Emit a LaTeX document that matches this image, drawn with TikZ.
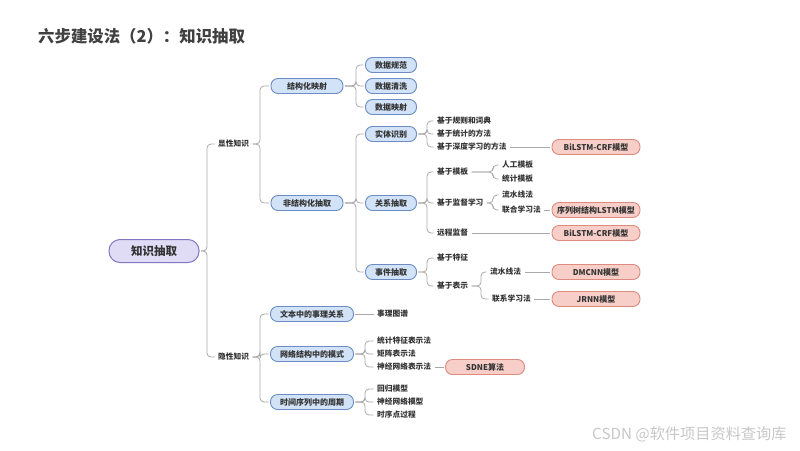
\documentclass[tikz,border=0pt]{standalone}
\usepackage{fontspec}
\newfontfamily\cjk{Noto Sans CJK SC}
\usetikzlibrary{positioning}
\definecolor{lineGrey}{HTML}{A9A9A9}
\definecolor{pillBlue}{HTML}{D2E2F7}
\definecolor{edgeBlue}{HTML}{6B8CC6}
\definecolor{pillRed}{HTML}{F7CFC8}
\definecolor{edgeRed}{HTML}{DE8A7E}
\definecolor{pillLav}{HTML}{E1DCF5}
\definecolor{edgeLav}{HTML}{8375C4}
\definecolor{inkGrey}{HTML}{333333}

\tikzset{
  pill/.style={rounded corners=7pt, minimum height=15pt, inner sep=1pt, line width=0.9pt,
    font=\cjk\bfseries\fontsize{8}{9}\selectfont, text=inkGrey},
  bluebox/.style={pill, fill=pillBlue, draw=edgeBlue},
  redbox/.style={pill, fill=pillRed, draw=edgeRed, minimum width=88pt},
  rootbox/.style={rounded corners=11pt, minimum height=23pt, minimum width=90pt, fill=pillLav,
    draw=edgeLav, line width=1pt, font=\cjk\bfseries\fontsize{11.5}{13}\selectfont, text=inkGrey},
  leaf/.style={anchor=west, inner sep=2pt, font=\cjk\bfseries\fontsize{7.7}{9}\selectfont, text=inkGrey},
  conn/.style={draw=lineGrey, line width=0.8pt, rounded corners=4pt, shorten <=1.5pt, shorten >=1.5pt},
}
\newcommand\branch[3]{\draw[conn] (#1.east) -- (#3,0 |- #1.east) |- (#2.west);}

\begin{document}
\begin{tikzpicture}[x=1pt, y=-1pt]
  \useasboundingbox (0,0) rectangle (800,450);
  \node[anchor=west, inner sep=0pt, font=\cjk\bfseries\fontsize{16.4}{18}\selectfont, text=black!75]
    (title) at (38,36) {六步建设法（2）：知识抽取};

  \node[rootbox] (root) at (154,251) {知识抽取};
  \node[leaf] (exp) at (216,144) {显性知识};
  \node[leaf] (imp) at (216,357) {隐性知识};
  \branch{root}{exp}{207}
  \branch{root}{imp}{207}

  \node[bluebox, minimum width=72pt] (smap) at (307,86) {结构化映射};
  \node[bluebox, minimum width=72pt] (uext) at (307,203) {非结构化抽取};
  \branch{exp}{smap}{260}
  \branch{exp}{uext}{260}

  \foreach \t/\y [count=\i] in {数据规范/65, 数据清洗/86, 数据映射/107} {
    \node[bluebox, minimum width=51pt] (data\i) at (391,\y) {\t};
    \branch{smap}{data\i}{356}
  }

  \node[bluebox, minimum width=51pt] (ent) at (391,134) {实体识别};
  \node[bluebox, minimum width=51pt] (rel) at (391,203) {关系抽取};
  \node[bluebox, minimum width=51pt] (evt) at (391,272) {事件抽取};
  \foreach \n in {ent, rel, evt} {
    \branch{uext}{\n}{356}
  }

  \foreach \t/\y [count=\i] in {基于规则和词典/121, 基于统计的方法/134, 基于深度学习的方法/147} {
    \node[leaf] (ent\i) at (435,\y) {\t};
    \branch{ent}{ent\i}{427}
  }
  \node[redbox] (bil1) at (596,147) {BiLSTM-CRF模型};
  \draw[conn] (ent3) -- (bil1);

  \node[leaf] (tpl) at (435,172) {基于模板};
  \node[leaf] (sup) at (435,203) {基于监督学习};
  \node[leaf] (dist) at (435,233) {远程监督};
  \foreach \n in {tpl, sup, dist} {
    \branch{rel}{\n}{427}
  }
  \node[leaf] (tpl1) at (500,165) {人工模板};
  \node[leaf] (tpl2) at (500,179) {统计模板};
  \node[leaf] (sup1) at (500,195) {流水线法};
  \node[leaf] (sup2) at (500,210) {联合学习法};
  \branch{tpl}{tpl1}{493}
  \branch{tpl}{tpl2}{493}
  \branch{sup}{sup1}{493}
  \branch{sup}{sup2}{493}
  \node[redbox] (lstm) at (596,210) {序列树结构LSTM模型};
  \node[redbox] (bil2) at (596,233) {BiLSTM-CRF模型};
  \draw[conn] (sup2) -- (lstm);
  \draw[conn] (dist) -- (bil2);

  \node[leaf] (feat) at (435,258) {基于特征};
  \node[leaf] (repr) at (435,286) {基于表示};
  \branch{evt}{feat}{427}
  \branch{evt}{repr}{427}
  \node[leaf] (pipe) at (488,272) {流水线法};
  \node[leaf] (joint) at (490,299) {联系学习法};
  \branch{repr}{pipe}{481}
  \branch{repr}{joint}{481}
  \node[redbox] (dmcnn) at (596,272) {DMCNN模型};
  \node[redbox] (jrnn) at (596,299) {JRNN模型};
  \draw[conn] (pipe) -- (dmcnn);
  \draw[conn] (joint) -- (jrnn);

  \node[bluebox, minimum width=83pt] (h1) at (312,314) {文本中的事理关系};
  \node[bluebox, minimum width=83pt] (h2) at (312,354) {网络结构中的模式};
  \node[bluebox, minimum width=83pt] (h3) at (312,402) {时间序列中的周期};
  \foreach \n in {h1, h2, h3} {
    \branch{imp}{\n}{260}
  }

  \node[leaf] (graph) at (375,314) {事理图谱};
  \draw[conn] (h1) -- (graph);
  \foreach \t/\y [count=\i] in {统计特征表示法/341, 矩阵表示法/354, 神经网络表示法/367} {
    \node[leaf] (net\i) at (375,\y) {\t};
    \branch{h2}{net\i}{365}
  }
  \node[redbox, minimum width=79pt] (sdne) at (485,367) {SDNE算法};
  \draw[conn] (net3) -- (sdne);
  \foreach \t/\y [count=\i] in {回归模型/389, 神经网络模型/402, 时序点过程/415} {
    \node[leaf] (ts\i) at (375,\y) {\t};
    \branch{h3}{ts\i}{365}
  }

  \node[anchor=west, inner sep=0pt, font=\cjk\fontsize{15.2}{17}\selectfont, text=black!22]
    (mark) at (592,434) {CSDN @软件项目资料查询库};
\end{tikzpicture}
\end{document}
